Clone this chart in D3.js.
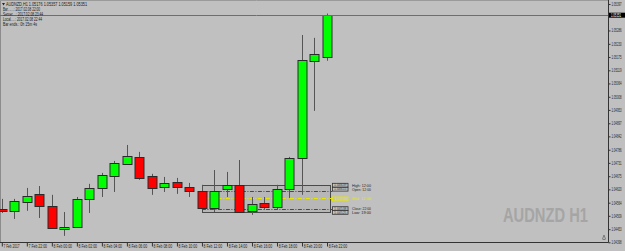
<!DOCTYPE html>
<html lang="en">
<head>
    <meta charset="UTF-8">
    <title>AUDNZD H1</title>
    <script src="https://d3js.org/d3.v7.min.js"></script>
    <style>
        body { margin: 0; background: #c0c0c0; }
        svg text { font-family: "Liberation Sans", Arial, sans-serif; }
    </style>
</head>
<body>
<div id="chart"></div>
<script>
    // hourly bars, 7 Feb 20:00 .. 8 Feb 22:00
    const times = [
        "2017-02-07 20:00", "2017-02-07 21:00", "2017-02-07 22:00", "2017-02-07 23:00",
        "2017-02-08 00:00", "2017-02-08 01:00", "2017-02-08 02:00", "2017-02-08 03:00",
        "2017-02-08 04:00", "2017-02-08 05:00", "2017-02-08 06:00", "2017-02-08 07:00",
        "2017-02-08 08:00", "2017-02-08 09:00", "2017-02-08 10:00", "2017-02-08 11:00",
        "2017-02-08 12:00", "2017-02-08 13:00", "2017-02-08 14:00", "2017-02-08 15:00",
        "2017-02-08 16:00", "2017-02-08 17:00", "2017-02-08 18:00", "2017-02-08 19:00",
        "2017-02-08 20:00", "2017-02-08 21:00", "2017-02-08 22:00"
    ];
    const opens  = [1.04538, 1.04530, 1.04567, 1.04601, 1.04551, 1.04454, 1.04463, 1.04580, 1.04626, 1.04676,
                    1.04727, 1.04756, 1.04676, 1.04630, 1.04651, 1.04630, 1.04613, 1.04542, 1.04622, 1.04639,
                    1.04530, 1.04563, 1.04546, 1.04622, 1.04752, 1.05158, 1.05176];
    const highs  = [1.04580, 1.04580, 1.04626, 1.04634, 1.04597, 1.04525, 1.04588, 1.04643, 1.04689, 1.04739,
                    1.04806, 1.04777, 1.04685, 1.04672, 1.04668, 1.04647, 1.04639, 1.04701, 1.04693, 1.04743,
                    1.04588, 1.04588, 1.04639, 1.04756, 1.05267, 1.05255, 1.05357];
    const lows   = [1.04521, 1.04496, 1.04530, 1.04500, 1.04454, 1.04425, 1.04458, 1.04521, 1.04588, 1.04609,
                    1.04722, 1.04660, 1.04597, 1.04609, 1.04601, 1.04588, 1.04538, 1.04525, 1.04588, 1.04521,
                    1.04513, 1.04534, 1.04534, 1.04584, 1.04597, 1.04949, 1.05159];
    const closes = [1.04530, 1.04572, 1.04593, 1.04551, 1.04458, 1.04463, 1.04580, 1.04626, 1.04681, 1.04731,
                    1.04760, 1.04668, 1.04626, 1.04647, 1.04630, 1.04613, 1.04542, 1.04613, 1.04639, 1.04525,
                    1.04559, 1.04546, 1.04622, 1.04752, 1.05162, 1.05188, 1.05351];

    const priceTicks = ["1.05397", "1.05286", "1.05230", "1.05175", "1.05119", "1.05064", "1.05008",
                        "1.04953", "1.04897", "1.04842", "1.04786", "1.04731", "1.04675", "1.04620",
                        "1.04564", "1.04509", "1.04453", "1.04398"];
    const timeTicks = ["2017-02-07 20:00", "2017-02-07 22:00", "2017-02-08 00:00", "2017-02-08 02:00",
                       "2017-02-08 04:00", "2017-02-08 06:00", "2017-02-08 08:00", "2017-02-08 10:00",
                       "2017-02-08 12:00", "2017-02-08 14:00", "2017-02-08 16:00", "2017-02-08 18:00",
                       "2017-02-08 20:00", "2017-02-08 22:00"];
    const timeLabels = ["7 Feb 2017", "7 Feb 22:00", "8 Feb 00:00", "8 Feb 02:00", "8 Feb 04:00",
                        "8 Feb 06:00", "8 Feb 08:00", "8 Feb 10:00", "8 Feb 12:00", "8 Feb 14:00",
                        "8 Feb 16:00", "8 Feb 18:00", "8 Feb 20:00", "8 Feb 22:00"];

    // range box drawn on the chart
    const boxStart = "2017-02-08 12:00";
    const boxEnd = "2017-02-08 22:15";
    const boxNames = ["High: 12:00", "Open: 12:00", "Mid: 12:00", "Close: 22:00", "Low: 19:00"];
    const boxPrices = [1.04639, 1.04615, 1.04582, 1.04538, 1.04525];

    const infoLines = [
        "AUDNZD,H1  1.05176 1.05357 1.05159 1.05351",
        "Bar.......: 2017.02.08 22:00",
        "Server....: 2017.02.08 23:44",
        "Local.....: 2017.02.08 22:44",
        "Bar ends.: 0h 15m 4s"
    ];
    const bidPrice = 1.05351;

    const W = 625, H = 251;
    const axisX = 608.5, axisY = 242.5;
    const parse = d3.utcParse("%Y-%m-%d %H:%M");

    const svg = d3.select("#chart").append("svg")
        .attr("width", W).attr("height", H);

    svg.append("rect").attr("width", W).attr("height", H).attr("fill", "#c0c0c0");

    const x = d3.scaleUtc()
        .domain([parse(times[0]), parse(times[times.length - 1])])
        .range([1.8, 327]);
    const y = d3.scaleLinear()
        .domain([1.04398, 1.05397])
        .range([242.3, 4]);

    // chart frame
    svg.append("line").attr("x1", 0.5).attr("x2", 0.5).attr("y1", 0).attr("y2", axisY)
        .attr("stroke", "#8c8c8c");
    svg.append("line").attr("x1", 0).attr("x2", axisX).attr("y1", 0.5).attr("y2", 0.5)
        .attr("stroke", "#9a9a9a");

    // watermark
    svg.append("text")
        .attr("x", 503).attr("y", 221.5)
        .attr("textLength", 85).attr("lengthAdjust", "spacingAndGlyphs")
        .style("font-family", "'Liberation Sans Narrow', 'Liberation Sans', sans-serif")
        .style("font-weight", "bold").style("font-size", "20.5px")
        .attr("fill", "#a5a5a5")
        .text("AUDNZD H1");

    // range box
    const bx0 = x(parse(boxStart)), bx1 = x(parse(boxEnd));
    svg.append("rect")
        .attr("x", Math.round(bx0) + 0.5).attr("y", Math.round(y(boxPrices[0])) + 0.5)
        .attr("width", Math.round(bx1 - bx0))
        .attr("height", Math.round(y(boxPrices[4]) - y(boxPrices[0])))
        .attr("fill", "rgba(0,0,0,0.045)")
        .attr("stroke", "#4a4a4a").attr("stroke-width", 1);

    [1, 2, 3].forEach(i => {
        svg.append("line")
            .attr("x1", bx0).attr("x2", bx1 + 2)
            .attr("y1", Math.round(y(boxPrices[i])) + 0.5).attr("y2", Math.round(y(boxPrices[i])) + 0.5)
            .attr("stroke", i === 2 ? "#e6e600" : "#4a4a4a")
            .attr("stroke-width", 1)
            .attr("stroke-dasharray", "4,1.5,1,1.5");
    });

    // candles
    const wickX = i => Math.round(x(parse(times[i]))) + 0.5;
    times.forEach((t, i) => {
        svg.append("line")
            .attr("x1", wickX(i)).attr("x2", wickX(i))
            .attr("y1", y(highs[i])).attr("y2", y(lows[i]))
            .attr("stroke", "#555").attr("stroke-width", 1);
    });
    times.forEach((t, i) => {
        const up = closes[i] >= opens[i];
        const top = Math.round(y(Math.max(opens[i], closes[i])));
        const bot = Math.round(y(Math.min(opens[i], closes[i])));
        svg.append("rect")
            .attr("x", wickX(i) - 4.5).attr("y", top + 0.5)
            .attr("width", 9).attr("height", Math.max(1, bot - top))
            .attr("fill", up ? "#00ff00" : "#ff0000")
            .attr("stroke", "#2a2a2a").attr("stroke-width", 1);
    });

    // box price labels
    const labelY = [185.2, 189.2, 198.9, 208.6, 212.4];
    boxPrices.forEach((p, i) => {
        const col = i === 2 ? "#e6e600" : "#333";
        svg.append("rect")
            .attr("x", 332.5).attr("y", labelY[i] - 1.9)
            .attr("width", 15.5).attr("height", 3.8)
            .attr("fill", "#c4c4c4").attr("stroke", col).attr("stroke-width", 0.8);
        svg.append("text")
            .attr("x", 334).attr("y", labelY[i] + 1.2)
            .attr("textLength", 12.5).attr("lengthAdjust", "spacingAndGlyphs")
            .style("font-size", "3.4px").attr("fill", col)
            .text(p.toFixed(5));
        svg.append("text")
            .attr("x", 352).attr("y", labelY[i] + 1.3)
            .attr("textLength", 19).attr("lengthAdjust", "spacingAndGlyphs")
            .style("font-size", "3.7px").attr("fill", i === 2 ? "#e6e600" : "#222")
            .text(boxNames[i]);
    });

    // bid line
    const bidY = Math.round(y(bidPrice)) + 0.5;
    svg.append("line").attr("x1", 0).attr("x2", axisX).attr("y1", bidY).attr("y2", bidY)
        .attr("stroke", "#6e6e6e").attr("stroke-width", 1);

    // price axis
    const yAxis = svg.append("g")
        .attr("transform", `translate(${axisX},0)`)
        .call(d3.axisRight(y)
            .tickValues(priceTicks.map(Number))
            .tickFormat((d, i) => priceTicks[i])
            .tickSize(2).tickPadding(1));
    yAxis.select(".domain").attr("stroke", "#333").attr("d", `M0,0V${axisY}`);
    yAxis.selectAll(".tick line").attr("stroke", "#333");
    yAxis.selectAll(".tick text")
        .attr("fill", "#222").style("font-size", "4.6px")
        .attr("textLength", 10).attr("lengthAdjust", "spacingAndGlyphs");

    // current price tag
    svg.append("rect").attr("x", 609).attr("y", bidY - 2.8).attr("width", 16).attr("height", 5)
        .attr("fill", "#000");
    svg.append("text").attr("x", 611).attr("y", bidY + 1.6)
        .attr("textLength", 10).attr("lengthAdjust", "spacingAndGlyphs")
        .style("font-size", "4.6px").attr("fill", "#fff")
        .text(bidPrice.toFixed(5));

    // time axis
    const xAxis = svg.append("g")
        .attr("transform", `translate(0,${axisY})`)
        .call(d3.axisBottom(x)
            .tickValues(timeTicks.map(parse))
            .tickFormat((d, i) => timeLabels[i])
            .tickSize(4).tickPadding(0));
    xAxis.select(".domain").attr("stroke", "#333").attr("d", `M0,0H${axisX}`);
    xAxis.selectAll(".tick line").attr("stroke", "#333");
    xAxis.selectAll(".tick text")
        .attr("text-anchor", "start").attr("x", 1.2).attr("dy", "0").attr("y", 5.3)
        .attr("fill", "#222").style("font-size", "5px")
        .attr("textLength", (d, i) => i === 0 ? 16 : 18.5).attr("lengthAdjust", "spacingAndGlyphs");

    // info lines top-left
    svg.append("path").attr("d", "M2,3 L5,3 L3.5,5.5 Z").attr("fill", "#222");
    const infoY = [6, 10.7, 15.7, 20.7, 25.7];
    const infoX = [6, 3, 3, 3, 3];
    const infoLen = [81, 37, 40, 39, 34];
    infoLines.forEach((s, i) => {
        svg.append("text")
            .attr("x", infoX[i]).attr("y", infoY[i])
            .attr("textLength", infoLen[i]).attr("lengthAdjust", "spacingAndGlyphs")
            .style("font-size", "4.8px").attr("fill", "#1a1a1a")
            .text(s);
    });

    // small scroll marker bottom right
    svg.append("path").attr("d", "M602.5,239 L604,235 L605.5,239 M602.5,239.5 H605.5")
        .attr("fill", "none").attr("stroke", "#6a6a6a").attr("stroke-width", 0.8);
</script>
</body>
</html>
